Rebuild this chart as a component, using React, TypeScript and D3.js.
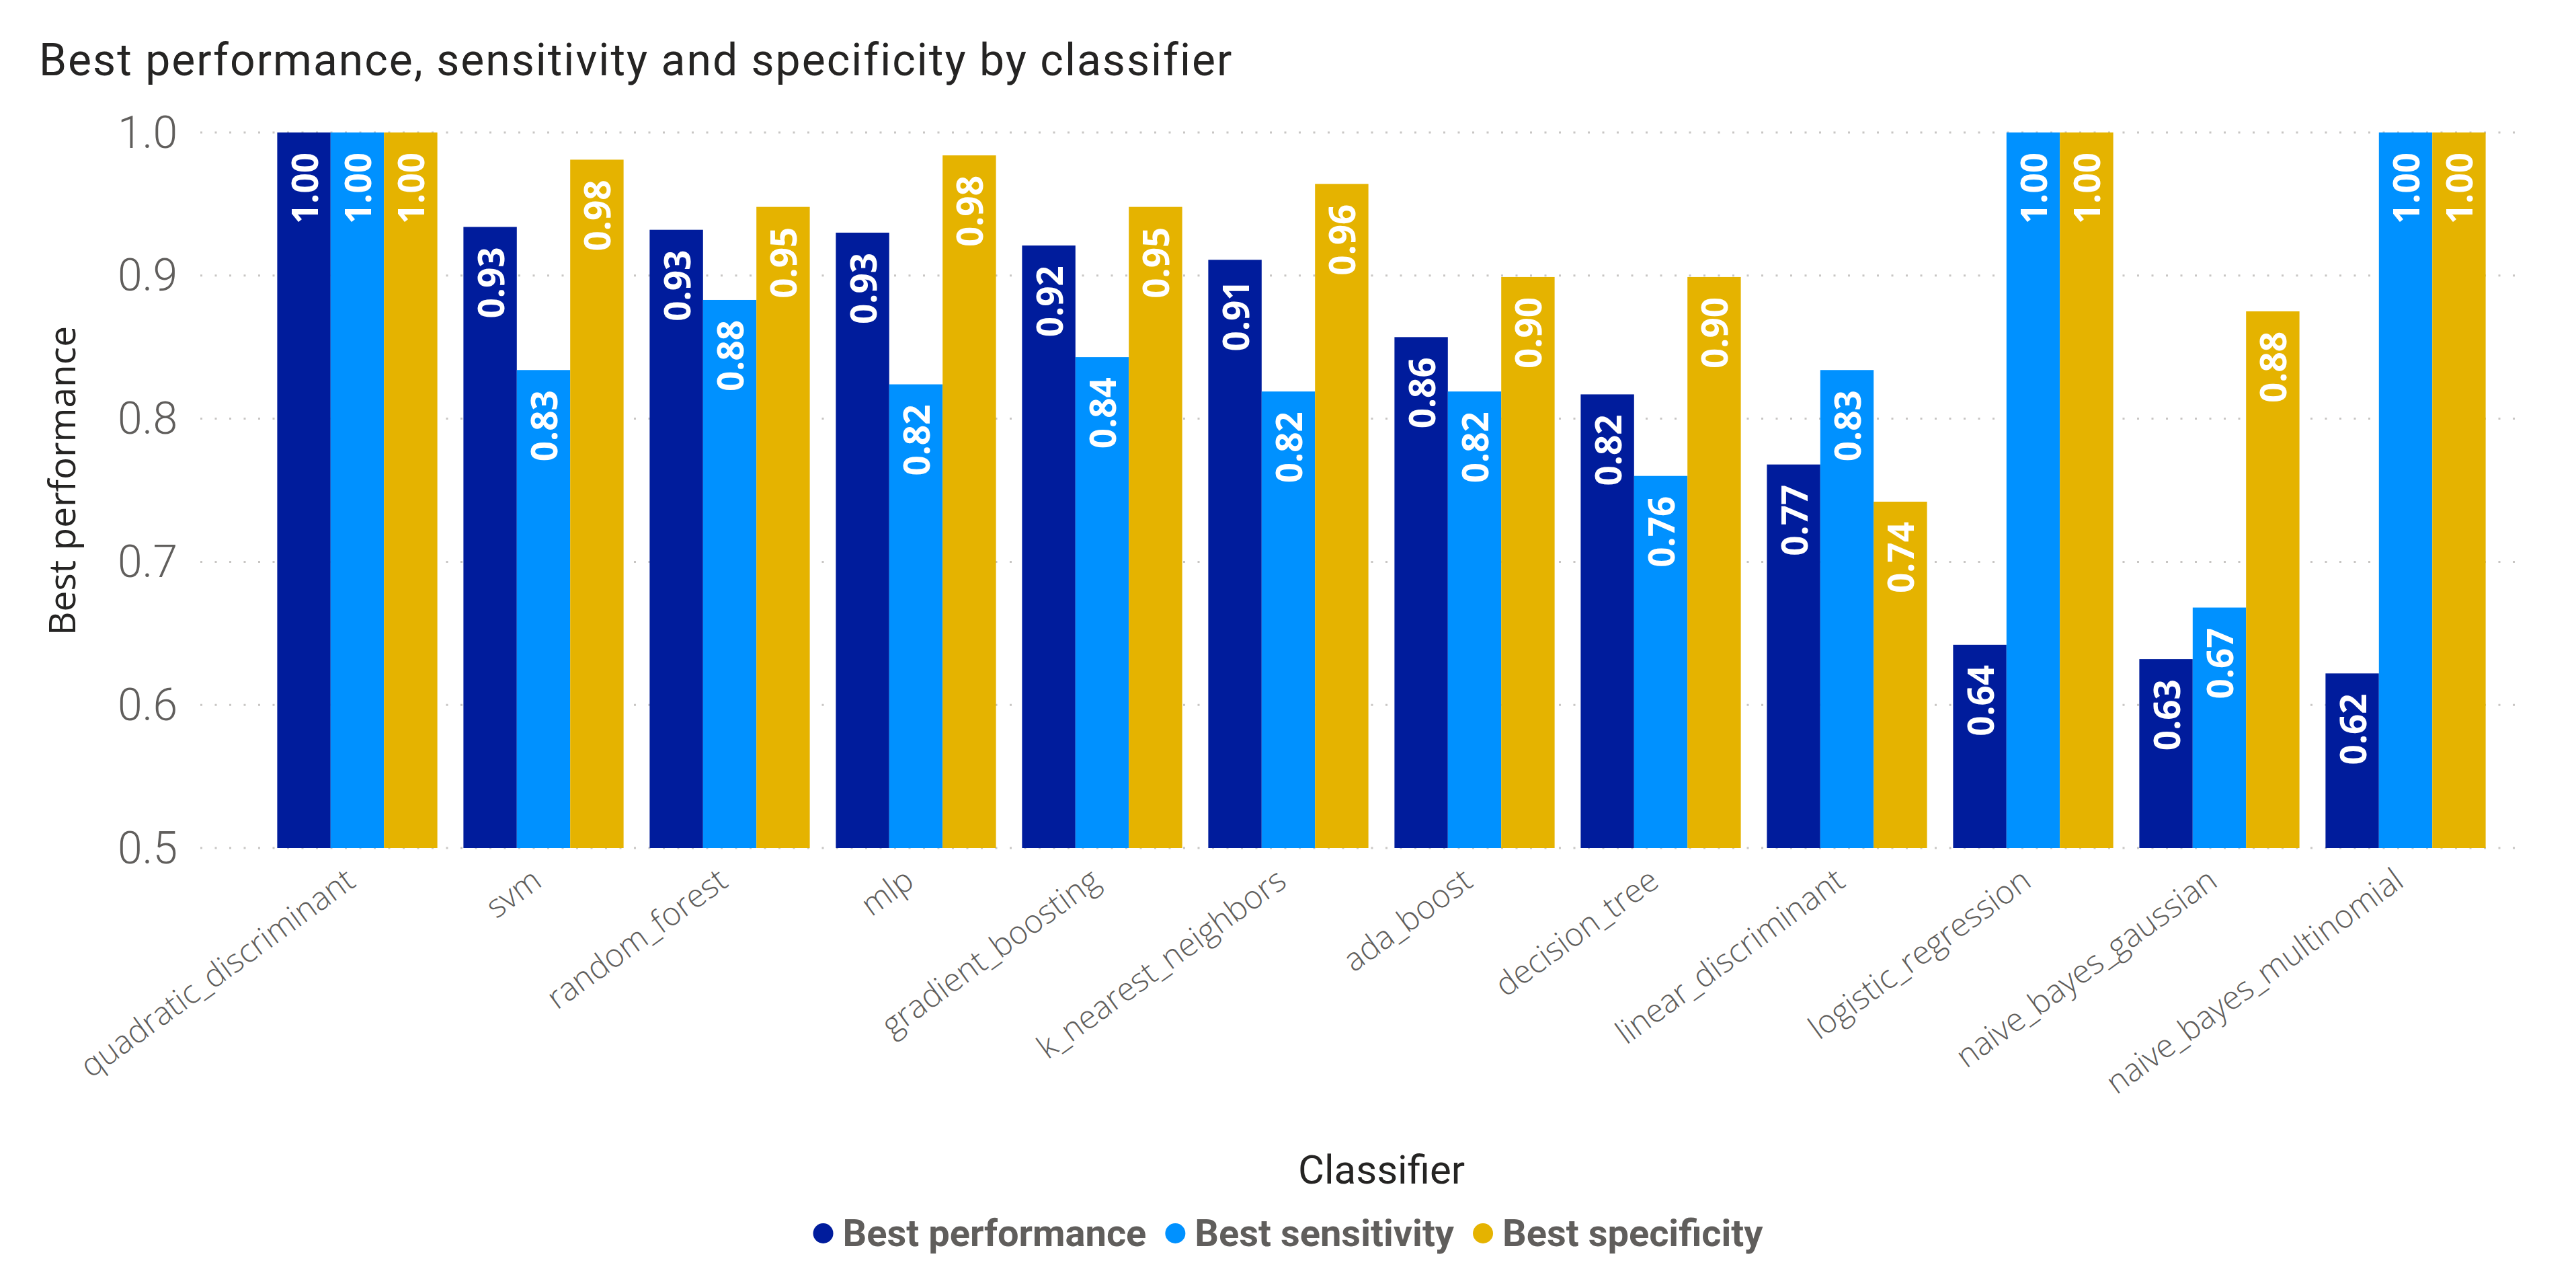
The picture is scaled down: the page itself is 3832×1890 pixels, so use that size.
import { useEffect, useRef } from 'react';
import * as d3 from 'd3';

const classifiers = [
    'quadratic_discriminant', 'svm', 'random_forest', 'mlp', 'gradient_boosting', 'k_nearest_neighbors',
    'ada_boost', 'decision_tree', 'linear_discriminant', 'logistic_regression', 'naive_bayes_gaussian', 'naive_bayes_multinomial',
];
const bestPerformance = [1.0, 0.934, 0.932, 0.930, 0.921, 0.911, 0.857, 0.817, 0.768, 0.642, 0.632, 0.622];
const bestSensitivity = [1.0, 0.834, 0.883, 0.824, 0.843, 0.819, 0.819, 0.760, 0.834, 1.0, 0.668, 1.0];
const bestSpecificity = [1.0, 0.981, 0.948, 0.984, 0.948, 0.964, 0.899, 0.899, 0.742, 1.0, 0.875, 1.0];
const seriesNames = ['Best performance', 'Best sensitivity', 'Best specificity'];
const seriesColors = ['#001C9C', '#0091FF', '#E5B300'];
const yTicks = [0.5, 0.6, 0.7, 0.8, 0.9, 1.0];

export default function App() {
    const ref = useRef<SVGSVGElement>(null);

    useEffect(() => {
        if (!ref.current) return;
        const svg = d3.select(ref.current);
        svg.selectAll('*').remove();

        const width = 3832;
        const height = 1890;
        const plot = { top: 197, bottom: 1261, left: 298, right: 3757 };
        const series = [bestPerformance, bestSensitivity, bestSpecificity];

        const x = d3.scaleBand<string>()
            .domain(classifiers)
            .range([393, 3717])
            .paddingInner(0.14)
            .paddingOuter(0.07);
        const xSub = d3.scaleBand<number>()
            .domain([0, 1, 2])
            .range([0, x.bandwidth()]);
        const y = d3.scaleLinear()
            .domain([0.5, 1.0])
            .range([plot.bottom, plot.top]);

        svg.append('rect').attr('width', width).attr('height', height).attr('fill', '#fff');

        // title
        svg.append('text')
            .attr('x', 58).attr('y', 112)
            .attr('font-family', 'Roboto').attr('font-size', 66)
            .attr('letter-spacing', 2)
            .attr('fill', '#252423')
            .text('Best performance, sensitivity and specificity by classifier');

        // dotted gridlines + tick labels
        const grid = svg.append('g');
        yTicks.forEach(t => {
            grid.append('line')
                .attr('x1', plot.left).attr('x2', plot.right)
                .attr('y1', y(t)).attr('y2', y(t))
                .attr('stroke', '#C8C6C4').attr('stroke-width', 3)
                .attr('stroke-dasharray', '3 18.5');
            grid.append('text')
                .attr('x', 264).attr('y', y(t))
                .attr('text-anchor', 'end').attr('dominant-baseline', 'central')
                .attr('font-family', 'Roboto').attr('font-weight', 300).attr('font-size', 66)
                .attr('fill', '#605E5C')
                .text(d3.format('.1f')(t));
        });

        // bars
        const fmt = d3.format('.2f');
        classifiers.forEach((c, i) => {
            const g = svg.append('g').attr('transform', `translate(${x(c)},0)`);
            series.forEach((s, k) => {
                const v = s[i];
                g.append('rect')
                    .attr('x', xSub(k)!).attr('width', xSub.bandwidth())
                    .attr('y', y(v)).attr('height', y(0.5) - y(v))
                    .attr('fill', seriesColors[k]);
                const cx = xSub(k)! + xSub.bandwidth() / 2;
                const ty = y(v) + 30;
                g.append('text')
                    .attr('transform', `translate(${cx},${ty}) rotate(-90)`)
                    .attr('text-anchor', 'end').attr('dominant-baseline', 'central')
                    .attr('font-family', 'Open Sans').attr('font-weight', 700).attr('font-size', 53)
                    .attr('fill', '#fff')
                    .text(fmt(v));
            });

            // category label
            svg.append('text')
                .attr('transform', `translate(${x(c)! + x.bandwidth() / 2},${plot.bottom + 55}) rotate(-36)`)
                .attr('text-anchor', 'end')
                .attr('font-family', 'Open Sans').attr('font-weight', 300).attr('font-size', 48)
                .attr('fill', '#605E5C')
                .text(c);
        });

        // axis titles
        svg.append('text')
            .attr('transform', `translate(112,715) rotate(-90)`)
            .attr('text-anchor', 'middle')
            .attr('font-family', 'Open Sans').attr('font-size', 55)
            .attr('fill', '#252423')
            .text('Best performance');

        svg.append('text')
            .attr('x', (x.range()[0] + x.range()[1]) / 2).attr('y', 1760)
            .attr('text-anchor', 'middle')
            .attr('font-family', 'Roboto').attr('font-size', 60)
            .attr('fill', '#252423')
            .text('Classifier');

        // legend, centred on the full width
        const legend = svg.append('g');
        let cursor = 0;
        seriesNames.forEach((name, k) => {
            legend.append('circle')
                .attr('cx', cursor + 15).attr('cy', 0).attr('r', 15)
                .attr('fill', seriesColors[k]);
            const t = legend.append('text')
                .attr('x', cursor + 44).attr('y', 0)
                .attr('dominant-baseline', 'central')
                .attr('font-family', 'Roboto').attr('font-weight', 700).attr('font-size', 56)
                .attr('fill', '#605E5C')
                .text(name);
            const w = (t.node() as SVGTextElement).getComputedTextLength();
            cursor += 44 + w + 28;
        });
        const total = cursor - 28;
        legend.attr('transform', `translate(${width / 2 - total / 2},1834)`);
    }, []);

    return (
        <svg ref={ref} width={3832} height={1890}
            style={{ position: 'absolute', left: 0, top: 0, display: 'block' }} />
    );
}
